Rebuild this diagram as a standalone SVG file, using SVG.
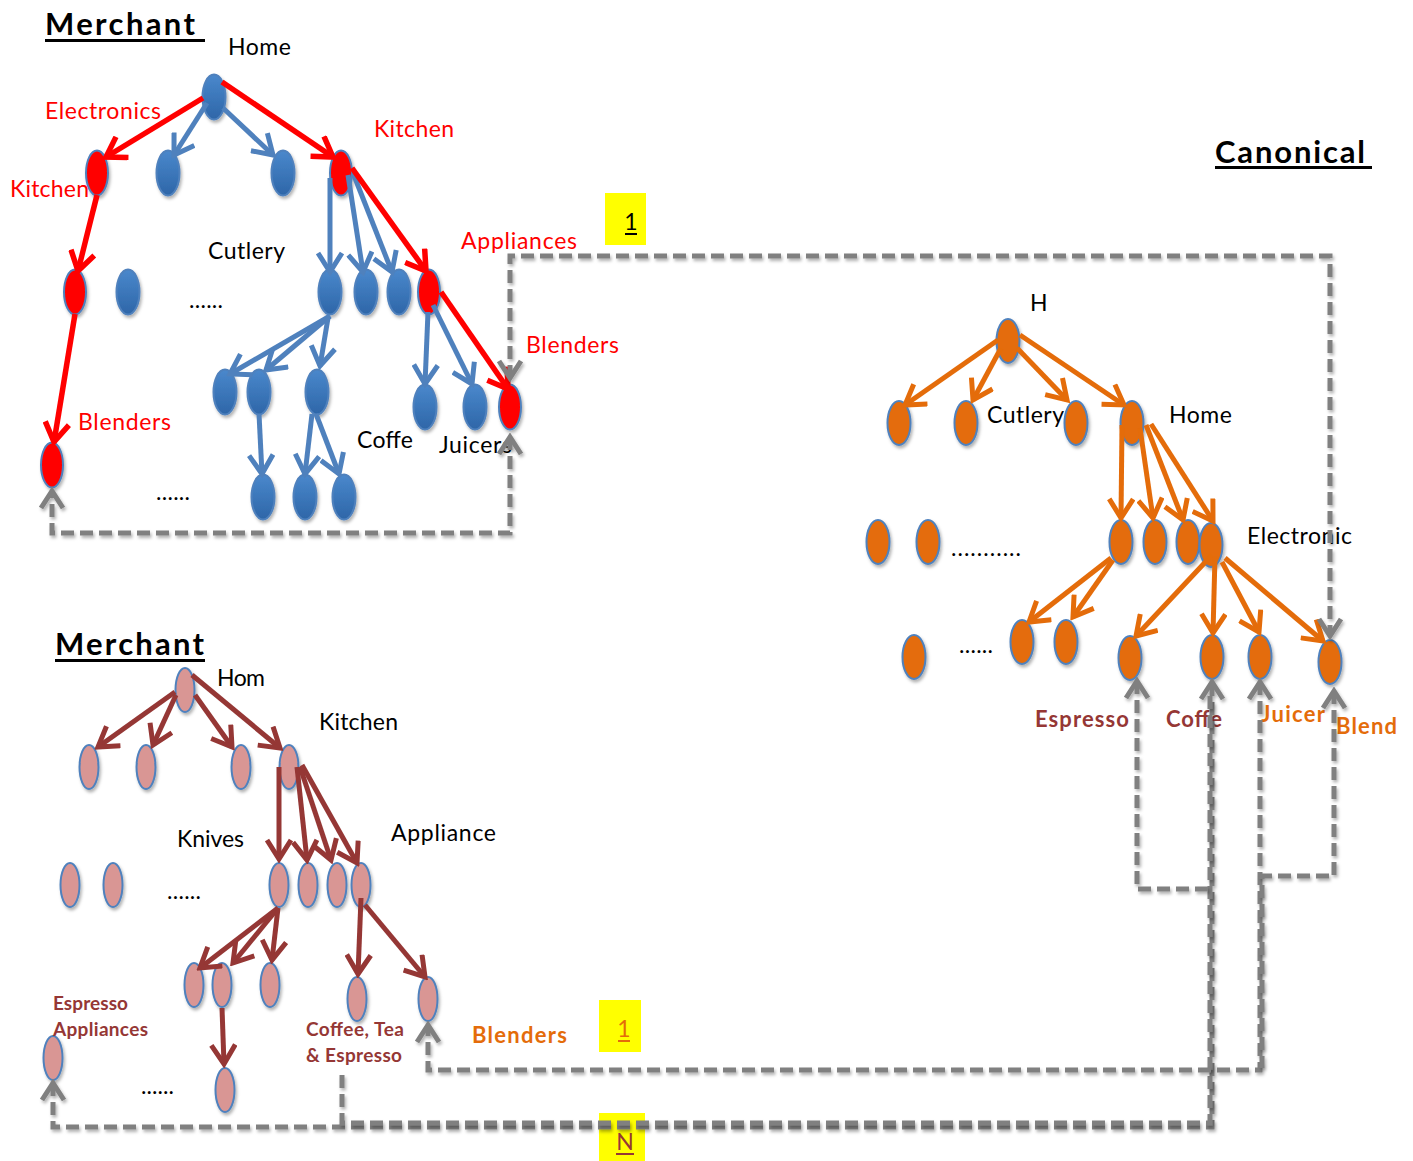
<svg xmlns="http://www.w3.org/2000/svg" width="1413" height="1161" viewBox="0 0 1413 1161">
  <style>
    .t { font-family: Lato, "Open Sans", "Liberation Sans", sans-serif; font-size: 23px; fill: #000; }
    .title { font-weight: 700; font-size: 31px; }
    .b { font-weight: 700; }
    .s19 { font-size: 19px; }
    .s22 { font-size: 22px; }
    .red { fill: #FF0000; }
    .org { fill: #E46C0A; }
    .drd { fill: #953735; }
    .nb { fill: url(#gb); stroke: #4F81BD; stroke-width: 2; filter: url(#sh); }
    .nr { fill: #FF0000; stroke: #4F81BD; stroke-width: 2; filter: url(#sh); }
    .no { fill: #E46C0A; stroke: #4F81BD; stroke-width: 2; filter: url(#sh); }
    .np { fill: #D99694; stroke: #4F81BD; stroke-width: 2; filter: url(#sh); }
    .e { fill: none; stroke-width: 5; }
    .eb { stroke: #4F81BD; marker-end: url(#ab); }
    .er { stroke: #FF0000; stroke-width: 5.5; marker-end: url(#ar); }
    .eo { stroke: #E46C0A; marker-end: url(#ao); }
    .ed { stroke: #953735; marker-end: url(#ad); }
    .dash { fill: none; stroke: #808080; stroke-width: 5; stroke-dasharray: 13 6; filter: url(#sh); }
    .both { marker-start: url(#ag); marker-end: url(#ag); }
    .st { marker-start: url(#ag); }
    .en { marker-end: url(#ag); }
  </style>
  <defs>
    <linearGradient id="gb" x1="0" y1="0" x2="0" y2="1">
      <stop offset="0" stop-color="#4A88CC"/>
      <stop offset="1" stop-color="#2E66A8"/>
    </linearGradient>
    <filter id="sh" x="-30%" y="-30%" width="160%" height="160%">
      <feDropShadow dx="1.5" dy="2.5" stdDeviation="1.5" flood-color="#000" flood-opacity="0.3"/>
    </filter>
    <marker id="ab" viewBox="0 0 26 28" markerUnits="userSpaceOnUse" markerWidth="26" markerHeight="28" refX="22" refY="14" orient="auto">
      <path d="M3,2 L22,14 L3,26" fill="none" stroke="#4F81BD" stroke-width="5"/>
    </marker>
    <marker id="ar" viewBox="0 0 26 28" markerUnits="userSpaceOnUse" markerWidth="26" markerHeight="28" refX="22" refY="14" orient="auto">
      <path d="M3,2 L22,14 L3,26" fill="none" stroke="#FF0000" stroke-width="5.5"/>
    </marker>
    <marker id="ao" viewBox="0 0 26 28" markerUnits="userSpaceOnUse" markerWidth="26" markerHeight="28" refX="22" refY="14" orient="auto">
      <path d="M3,2 L22,14 L3,26" fill="none" stroke="#E46C0A" stroke-width="5"/>
    </marker>
    <marker id="ad" viewBox="0 0 26 28" markerUnits="userSpaceOnUse" markerWidth="26" markerHeight="28" refX="22" refY="14" orient="auto">
      <path d="M3,2 L22,14 L3,26" fill="none" stroke="#953735" stroke-width="5"/>
    </marker>
    <marker id="ag" viewBox="0 0 24 28" markerUnits="userSpaceOnUse" markerWidth="24" markerHeight="28" refX="20" refY="14" orient="auto-start-reverse">
      <path d="M3,3 L20,14 L3,25" fill="none" stroke="#808080" stroke-width="5" stroke-dasharray="none"/>
    </marker>
  </defs>

  <!-- Top merchant taxonomy -->
  <g id="tm-root"><ellipse class="nb" cx="214" cy="97" rx="11.5" ry="22.5"/></g>
  <g id="tm-electronics"><ellipse class="nr" cx="97" cy="173" rx="11" ry="22.5"/></g>
  <g id="tm-n1"><ellipse class="nb" cx="168" cy="173" rx="11.5" ry="22.5"/></g>
  <g id="tm-n2"><ellipse class="nb" cx="283" cy="173" rx="11.5" ry="22.5"/></g>
  <g id="tm-kitchen"><ellipse class="nr" cx="341" cy="173" rx="11" ry="22.5"/></g>
  <g id="tm-kitchen2"><ellipse class="nr" cx="75" cy="292" rx="11" ry="22.5"/></g>
  <g id="tm-n3"><ellipse class="nb" cx="128" cy="292" rx="11.5" ry="22.5"/></g>
  <g id="tm-cutlery"><ellipse class="nb" cx="330" cy="292" rx="11.5" ry="22.5"/></g>
  <g id="tm-n4"><ellipse class="nb" cx="366" cy="292" rx="11.5" ry="22.5"/></g>
  <g id="tm-n5"><ellipse class="nb" cx="399" cy="292" rx="11.5" ry="22.5"/></g>
  <g id="tm-appliances"><ellipse class="nr" cx="429" cy="292" rx="11" ry="22.5"/></g>
  <g id="tm-c1"><ellipse class="nb" cx="225" cy="392" rx="11.5" ry="22.5"/></g>
  <g id="tm-c2"><ellipse class="nb" cx="259" cy="392" rx="11.5" ry="22.5"/></g>
  <g id="tm-c3"><ellipse class="nb" cx="317" cy="392" rx="11.5" ry="22.5"/></g>
  <g id="tm-coffe"><ellipse class="nb" cx="425" cy="407" rx="11.5" ry="22.5"/></g>
  <g id="tm-juicers"><ellipse class="nb" cx="475" cy="407" rx="11.5" ry="22.5"/></g>
  <g id="tm-blenders"><ellipse class="nr" cx="510" cy="407" rx="11" ry="22.5"/></g>
  <g id="tm-blenders2"><ellipse class="nr" cx="52" cy="465" rx="11" ry="22.5"/></g>
  <g id="tm-d1"><ellipse class="nb" cx="263" cy="497" rx="11.5" ry="22.5"/></g>
  <g id="tm-d2"><ellipse class="nb" cx="305" cy="497" rx="11.5" ry="22.5"/></g>
  <g id="tm-d3"><ellipse class="nb" cx="344" cy="497" rx="11.5" ry="22.5"/></g>

  <!-- Canonical taxonomy -->
  <g id="cn-root"><ellipse class="no" cx="1008" cy="341" rx="11.5" ry="22"/></g>
  <g id="cn-a1"><ellipse class="no" cx="899" cy="423" rx="11.5" ry="22"/></g>
  <g id="cn-a2"><ellipse class="no" cx="966" cy="423" rx="11.5" ry="22"/></g>
  <g id="cn-a3"><ellipse class="no" cx="1076" cy="423" rx="11.5" ry="22"/></g>
  <g id="cn-home"><ellipse class="no" cx="1132" cy="423" rx="11.5" ry="22"/></g>
  <g id="cn-b1"><ellipse class="no" cx="878" cy="542" rx="11.5" ry="22"/></g>
  <g id="cn-b2"><ellipse class="no" cx="928" cy="542" rx="11.5" ry="22"/></g>
  <g id="cn-b3"><ellipse class="no" cx="1121" cy="542" rx="11.5" ry="22"/></g>
  <g id="cn-b4"><ellipse class="no" cx="1155" cy="542" rx="11.5" ry="22"/></g>
  <g id="cn-b5"><ellipse class="no" cx="1188" cy="542" rx="11.5" ry="22"/></g>
  <g id="cn-electronic"><ellipse class="no" cx="1211" cy="545" rx="11.5" ry="22"/></g>
  <g id="cn-c1"><ellipse class="no" cx="914" cy="657" rx="11.5" ry="22"/></g>
  <g id="cn-c2"><ellipse class="no" cx="1022" cy="642" rx="11.5" ry="22"/></g>
  <g id="cn-c3"><ellipse class="no" cx="1066" cy="642" rx="11.5" ry="22"/></g>
  <g id="cn-espresso"><ellipse class="no" cx="1130" cy="658" rx="11.5" ry="22"/></g>
  <g id="cn-coffe"><ellipse class="no" cx="1212" cy="657" rx="11.5" ry="22"/></g>
  <g id="cn-juicer"><ellipse class="no" cx="1260" cy="657" rx="11.5" ry="22"/></g>
  <g id="cn-blend"><ellipse class="no" cx="1330" cy="662" rx="11.5" ry="22"/></g>

  <!-- Bottom merchant taxonomy -->
  <g id="bm-root"><ellipse class="np" cx="185" cy="690" rx="9.5" ry="22"/></g>
  <g id="bm-a1"><ellipse class="np" cx="89" cy="767" rx="9.5" ry="22"/></g>
  <g id="bm-a2"><ellipse class="np" cx="146" cy="767" rx="9.5" ry="22"/></g>
  <g id="bm-a3"><ellipse class="np" cx="241" cy="767" rx="9.5" ry="22"/></g>
  <g id="bm-kitchen"><ellipse class="np" cx="289" cy="767" rx="9.5" ry="22"/></g>
  <g id="bm-b1"><ellipse class="np" cx="70" cy="885" rx="9.5" ry="22"/></g>
  <g id="bm-b2"><ellipse class="np" cx="113" cy="885" rx="9.5" ry="22"/></g>
  <g id="bm-knives"><ellipse class="np" cx="279" cy="885" rx="9.5" ry="22"/></g>
  <g id="bm-b3"><ellipse class="np" cx="308" cy="885" rx="9.5" ry="22"/></g>
  <g id="bm-b4"><ellipse class="np" cx="337" cy="885" rx="9.5" ry="22"/></g>
  <g id="bm-appliance"><ellipse class="np" cx="361" cy="885" rx="9.5" ry="22"/></g>
  <g id="bm-c1"><ellipse class="np" cx="194" cy="985" rx="9.5" ry="22"/></g>
  <g id="bm-c2"><ellipse class="np" cx="222" cy="985" rx="9.5" ry="22"/></g>
  <g id="bm-c3"><ellipse class="np" cx="270" cy="985" rx="9.5" ry="22"/></g>
  <g id="bm-coffee"><ellipse class="np" cx="357" cy="999" rx="9.5" ry="22"/></g>
  <g id="bm-blenders"><ellipse class="np" cx="428" cy="999" rx="9.5" ry="22"/></g>
  <g id="bm-espresso"><ellipse class="np" cx="53" cy="1058" rx="9.5" ry="22"/></g>
  <g id="bm-d1"><ellipse class="np" cx="225" cy="1090" rx="9.5" ry="22"/></g>

  <!-- Labels -->
  <g id="labels" class="t">
    <text class="t title" x="45" y="35" textLength="150">Merchant</text>
    <rect x="45" y="39" width="160" height="3"/>
    <text x="228" y="55" textLength="63">Home</text>
    <text class="red" x="45" y="119" textLength="116">Electronics</text>
    <text class="red" x="374" y="137" textLength="80">Kitchen</text>
    <text class="red" x="10" y="197" textLength="79">Kitchen</text>
    <text x="208" y="259" textLength="77">Cutlery</text>
    <text x="189" y="308" textLength="34">......</text>
    <text class="red" x="461" y="249" textLength="116">Appliances</text>
    <text class="red" x="526" y="353" textLength="93">Blenders</text>
    <text x="357" y="448" textLength="56">Coffe</text>
    <text x="439" y="453" textLength="73">Juicers</text>
    <text class="red" x="78" y="430" textLength="93">Blenders</text>
    <text x="156" y="500" textLength="34">......</text>

    <rect x="605" y="193" width="41" height="52" fill="#FFFF00"/>
    <text x="631" y="230" text-anchor="middle">1</text>
    <rect x="625" y="233" width="12" height="2"/>

    <text class="t title" x="1215" y="163" textLength="150">Canonical</text>
    <rect x="1215" y="166" width="157" height="3"/>
    <text x="1030" y="311" textLength="14">H</text>
    <text x="987" y="423" textLength="77">Cutlery</text>
    <text x="1169" y="423" textLength="63">Home</text>
    <text x="951" y="556" textLength="70">...........</text>
    <text x="1247" y="544" textLength="105">Electronic</text>
    <text x="959" y="653" textLength="34">......</text>
    <text class="t b drd s22" x="1035" y="727" textLength="94">Espresso</text>
    <text class="t b drd s22" x="1166" y="727" textLength="56">Coffe</text>
    <text class="t b org s22" x="1261" y="722" textLength="64">Juicer</text>
    <text class="t b org s22" x="1336" y="734" textLength="61">Blend</text>

    <text class="t title" x="55" y="655" textLength="149">Merchant</text>
    <rect x="55" y="659" width="150" height="3"/>
    <text x="217" y="686" textLength="48">Hom</text>
    <text x="319" y="730" textLength="79">Kitchen</text>
    <text x="177" y="847" textLength="67">Knives</text>
    <text x="391" y="841" textLength="105">Appliance</text>
    <text x="167" y="899" textLength="34">......</text>
    <text class="t b drd s19" x="53" y="1010" textLength="75">Espresso</text>
    <text class="t b drd s19" x="53" y="1036" textLength="95">Appliances</text>
    <text class="t b drd s19" x="306" y="1036" textLength="98">Coffee, Tea</text>
    <text class="t b drd s19" x="306" y="1062" textLength="96">&amp; Espresso</text>
    <text x="141" y="1094" textLength="33">......</text>
    <text class="t b org s22" x="472" y="1043" textLength="95">Blenders</text>

    <rect x="599" y="1000" width="42" height="52" fill="#FFFF00"/>
    <text class="org" x="624" y="1037" text-anchor="middle">1</text>
    <rect x="618" y="1040" width="12" height="2" fill="#E46C0A"/>
    <rect x="599" y="1113" width="46" height="48" fill="#FFFF00"/>
    <text class="drd" x="625" y="1150" text-anchor="middle">N</text>
    <rect x="616" y="1153" width="18" height="2" fill="#953735"/>
  </g>

  <!-- Connectors -->
  <g id="connectors">
    <!-- top merchant: path to Blenders in red, other branches in blue -->
    <line class="e eb" x1="207" y1="103" x2="174" y2="155"/>
    <line class="e eb" x1="223" y1="108" x2="273" y2="155"/>
    <line class="e eb" x1="330" y1="178" x2="330" y2="272"/>
    <line class="e eb" x1="348" y1="175" x2="363" y2="272"/>
    <line class="e eb" x1="353" y1="173" x2="392" y2="272"/>
    <line class="e eb" x1="330" y1="316" x2="230" y2="374"/>
    <line class="e eb" x1="330" y1="316" x2="266" y2="370"/>
    <line class="e eb" x1="328" y1="318" x2="320" y2="366"/>
    <line class="e eb" x1="259" y1="414" x2="262" y2="474"/>
    <line class="e eb" x1="312" y1="414" x2="305" y2="474"/>
    <line class="e eb" x1="316" y1="414" x2="339" y2="474"/>
    <line class="e eb" x1="428" y1="312" x2="425" y2="384"/>
    <line class="e eb" x1="433" y1="305" x2="472" y2="384"/>
    <line class="e er" x1="203" y1="98" x2="106" y2="157"/>
    <line class="e er" x1="222" y1="82" x2="333" y2="157"/>
    <line class="e er" x1="97" y1="195" x2="78" y2="271"/>
    <line class="e er" x1="75" y1="314" x2="54" y2="442"/>
    <line class="e er" x1="352" y1="168" x2="426" y2="271"/>
    <line class="e er" x1="441" y1="292" x2="508" y2="389"/>

    <!-- canonical -->
    <line class="e eo" x1="998" y1="340" x2="905" y2="405"/>
    <line class="e eo" x1="1001" y1="348" x2="973" y2="400"/>
    <line class="e eo" x1="1017" y1="348" x2="1067" y2="400"/>
    <line class="e eo" x1="1020" y1="335" x2="1124" y2="405"/>
    <line class="e eo" x1="1122" y1="425" x2="1121" y2="518"/>
    <line class="e eo" x1="1140" y1="428" x2="1153" y2="518"/>
    <line class="e eo" x1="1146" y1="425" x2="1183" y2="520"/>
    <line class="e eo" x1="1151" y1="424" x2="1213" y2="521"/>
    <line class="e eo" x1="1111" y1="558" x2="1029" y2="622"/>
    <line class="e eo" x1="1113" y1="560" x2="1073" y2="617"/>
    <line class="e eo" x1="1212" y1="555" x2="1136" y2="636"/>
    <line class="e eo" x1="1215" y1="556" x2="1213" y2="633"/>
    <line class="e eo" x1="1222" y1="562" x2="1259" y2="632"/>
    <line class="e eo" x1="1225" y1="558" x2="1323" y2="641"/>

    <!-- bottom merchant -->
    <line class="e ed" x1="175" y1="692" x2="98" y2="747"/>
    <line class="e ed" x1="176" y1="695" x2="153" y2="745"/>
    <line class="e ed" x1="195" y1="695" x2="232" y2="747"/>
    <line class="e ed" x1="192" y1="675" x2="280" y2="748"/>
    <line class="e ed" x1="279" y1="767" x2="279" y2="859"/>
    <line class="e ed" x1="297" y1="767" x2="307" y2="860"/>
    <line class="e ed" x1="300" y1="767" x2="331" y2="860"/>
    <line class="e ed" x1="302" y1="765" x2="357" y2="863"/>
    <line class="e ed" x1="278" y1="908" x2="200" y2="968"/>
    <line class="e ed" x1="278" y1="908" x2="233" y2="963"/>
    <line class="e ed" x1="278" y1="908" x2="272" y2="960"/>
    <line class="e ed" x1="361" y1="898" x2="358" y2="974"/>
    <line class="e ed" x1="365" y1="905" x2="425" y2="977"/>
    <line class="e ed" x1="222" y1="1008" x2="224" y2="1064"/>

    <!-- dashed mappings between taxonomies -->
    <path class="dash both" d="M510,378 V256 H1330 V636"/>
    <path class="dash both" d="M510,437 V533 H52 V491"/>
    <path class="dash both" d="M53,1083 V1127 H1212 V682"/>
    <path class="dash" d="M342,1075 V1123 H1210 V690"/>
    <path class="dash st" d="M1137,681 V889 H1210"/>
    <path class="dash both" d="M1260,682 V1070 H428 V1025"/>
    <path class="dash st" d="M1334,691 V876 H1262 V1068"/>
  </g>
</svg>
